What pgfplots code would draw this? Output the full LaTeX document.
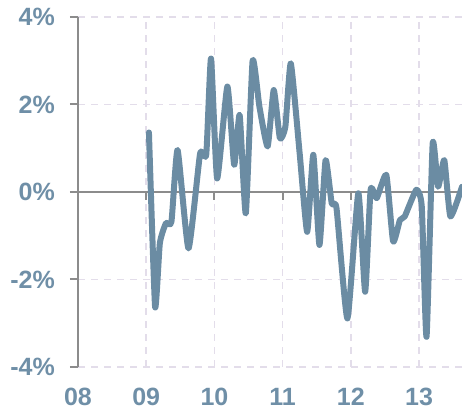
\documentclass[border=0pt]{standalone}
\usepackage{pgfplots}
\pgfplotsset{compat=1.18}
\usepackage{fontspec}
\setmainfont{Liberation Sans}
\definecolor{lineblue}{HTML}{6B8CA3}
\definecolor{labblue}{HTML}{6F8FA7}
\definecolor{gridc}{HTML}{E3DDEA}
\definecolor{axgray}{HTML}{8C8C8C}
\begin{document}
\begin{tikzpicture}
\begin{axis}[
  scale only axis, width=384pt, height=350pt,
  xmin=8, xmax=13.63, ymin=-4, ymax=4,
  axis lines*=left,
  x axis line style={draw=none},
  y axis line style={axgray, line width=2pt},
  xtick={8,9,10,11,12,13},
  xticklabels={08,09,10,11,12,13},
  ytick={-4,-2,0,2,4},
  yticklabels={-4\%,-2\%,0\%,2\%,4\%},
  xtick style={draw=none},
  ytick style={axgray, line width=2pt},
  tick align=outside, major tick length=8pt,
  ticklabel style={font=\fontsize{25}{30}\selectfont\bfseries, text=labblue, inner sep=0pt},
  yticklabel style={anchor=east, xshift=-15pt},
  xticklabel style={anchor=north, yshift=-13pt},
  xmajorgrids, ymajorgrids,
  grid style={gridc, line width=1.5pt, dash pattern=on 7pt off 6pt},
  clip=true,
]
\addplot[axgray, line width=2pt] coordinates {(8,0) (13.63,0)};
\draw[axgray, line width=2pt] (axis cs:9,0) -- ([yshift=-8pt]axis cs:9,0);
\draw[axgray, line width=2pt] (axis cs:10,0) -- ([yshift=-8pt]axis cs:10,0);
\draw[axgray, line width=2pt] (axis cs:11,0) -- ([yshift=-8pt]axis cs:11,0);
\draw[axgray, line width=2pt] (axis cs:12,0) -- ([yshift=-8pt]axis cs:12,0);
\draw[axgray, line width=2pt] (axis cs:13,0) -- ([yshift=-8pt]axis cs:13,0);
\addplot[lineblue, line width=6pt, line join=round, line cap=round, smooth, tension=0.3] coordinates {
(9.04,1.36) (9.13,-2.62) (9.20,-1.17) (9.29,-0.71) (9.37,-0.68) (9.46,0.96)
(9.62,-1.29) (9.79,0.88) (9.88,0.85) (9.95,3.05) (10.04,0.31) (10.19,2.41)
(10.29,0.62) (10.37,1.76) (10.46,-0.49) (10.56,3.0) (10.66,1.95) (10.78,1.04)
(10.87,2.33) (10.96,1.23) (11.04,1.49) (11.12,2.94) (11.25,0.88) (11.36,-0.91)
(11.45,0.85) (11.54,-1.21) (11.63,0.73) (11.72,-0.26) (11.79,-0.37) (11.95,-2.89)
(12.11,-0.03) (12.21,-2.28) (12.29,0.05) (12.38,-0.14) (12.52,0.39) (12.62,-1.13)
(12.72,-0.64) (12.79,-0.56) (12.96,0.05) (13.04,-0.33) (13.11,-3.31) (13.20,1.11)
(13.28,0.12) (13.37,0.73) (13.46,-0.56) (13.63,0.12)
};
\end{axis}
\pgfresetboundingbox
\path ([xshift=-78pt,yshift=-44pt]current axis.south west) rectangle ([yshift=17pt]current axis.north east);
\end{tikzpicture}
\end{document}
